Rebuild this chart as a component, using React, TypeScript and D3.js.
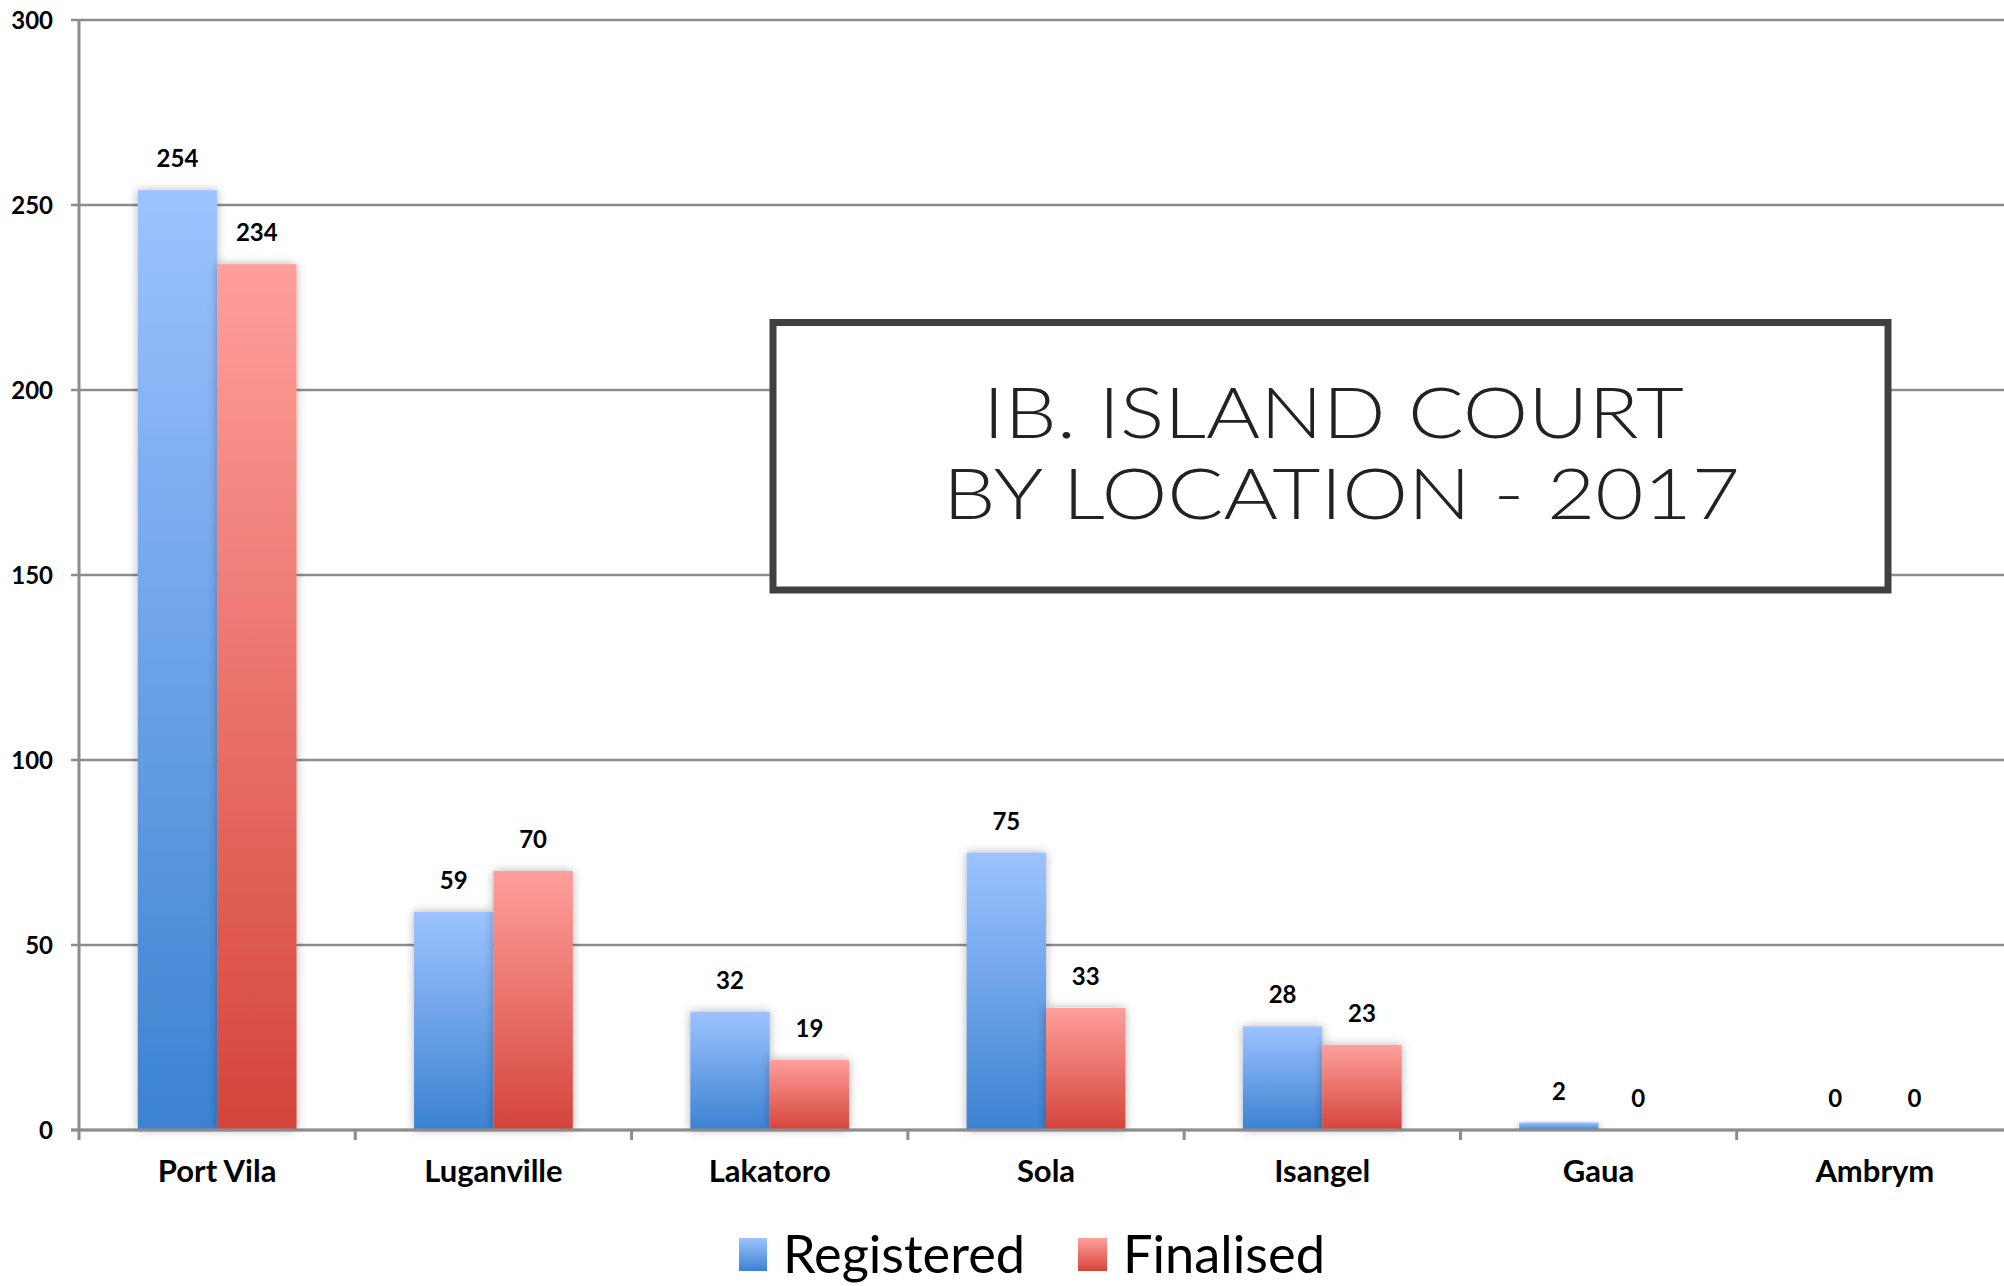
import React from "react";
import * as d3 from "d3";

const categories = ["Port Vila", "Luganville", "Lakatoro", "Sola", "Isangel", "Gaua", "Ambrym"];
const registered = [254, 59, 32, 75, 28, 2, 0];
const finalised = [234, 70, 19, 33, 23, 0, 0];
const seriesNames = ["Registered", "Finalised"];
const yTicks = [0, 50, 100, 150, 200, 250, 300];

const W = 2004;
const H = 1286;
const left = 79;
const right = 2013;
const top = 20;
const bottom = 1130;

export default function App() {
  const x0 = d3.scaleBand<string>().domain(categories).range([left, right]).paddingInner(0).paddingOuter(0);
  const x1 = d3.scaleBand<string>().domain(seriesNames).range([0, x0.bandwidth()]).paddingInner(0).paddingOuter(0.74);
  const y = d3.scaleLinear().domain([0, 300]).range([bottom, top]);
  const seriesData = [registered, finalised];
  const fills = ["url(#gBlue)", "url(#gRed)"];
  const labelFont = "Lato, 'Open Sans', sans-serif";

  return (
    <svg width={W} height={H} style={{ position: "absolute", left: 0, top: 0, background: "#fff" }}>
      <defs>
        <linearGradient id="gBlue" x1="0" y1="0" x2="0" y2="1">
          <stop offset="0" stopColor="#9dc3ff" />
          <stop offset="1" stopColor="#3b82d1" />
        </linearGradient>
        <linearGradient id="gRed" x1="0" y1="0" x2="0" y2="1">
          <stop offset="0" stopColor="#ff9f9b" />
          <stop offset="1" stopColor="#d4453b" />
        </linearGradient>
        <filter id="shadow" x="-30%" y="-10%" width="160%" height="120%">
          <feDropShadow dx="0" dy="0" stdDeviation="5" floodColor="#000" floodOpacity="0.3" />
        </filter>
      </defs>
      <rect x={0} y={0} width={W} height={H} fill="#fff" />
      {yTicks.map((t) => (
        <g key={"g" + t}>
          <line x1={71} x2={W} y1={y(t)} y2={y(t)} stroke="#8c8c8c" strokeWidth={2.5} />
          <text
            x={53}
            y={y(t) + 9}
            textAnchor="end"
            fontFamily={labelFont}
            fontWeight={700}
            fontSize={24}
            fill="#000"
          >
            {t}
          </text>
        </g>
      ))}
      {categories.map((c, i) => (
        <g key={c} transform={`translate(${x0(c)},0)`}>
          {seriesNames.map((s, j) => {
            const v = seriesData[j][i];
            const yy = y(v);
            const h = bottom - yy;
            return (
              <g key={s}>
                {h > 0 && (
                  <rect
                    x={x1(s)}
                    y={yy}
                    width={x1.bandwidth()}
                    height={h}
                    fill={fills[j]}
                    filter="url(#shadow)"
                  />
                )}
              </g>
            );
          })}
        </g>
      ))}
      <line x1={left} x2={left} y1={top} y2={bottom + 10} stroke="#8c8c8c" strokeWidth={3} />
      <line x1={71} x2={W} y1={bottom} y2={bottom} stroke="#8c8c8c" strokeWidth={3} />
      {categories.map((c, i) =>
        i > 0 ? (
          <line key={"t" + c} x1={x0(c)} x2={x0(c)} y1={bottom} y2={bottom + 10} stroke="#8c8c8c" strokeWidth={3} />
        ) : null
      )}
      {categories.map((c, i) =>
        seriesNames.map((s, j) => {
          const v = seriesData[j][i];
          return (
            <text
              key={c + s}
              x={(x0(c) as number) + (x1(s) as number) + x1.bandwidth() / 2}
              y={y(v) - 23}
              textAnchor="middle"
              fontFamily={labelFont}
              fontWeight={700}
              fontSize={24}
              fill="#000"
            >
              {v}
            </text>
          );
        })
      )}
      {categories.map((c) => (
        <text
          key={"c" + c}
          x={(x0(c) as number) + x0.bandwidth() / 2}
          y={1182}
          textAnchor="middle"
          fontFamily={labelFont}
          fontWeight={700}
          fontSize={31}
          fill="#000"
        >
          {c}
        </text>
      ))}
      <rect x={773} y={322.5} width={1115} height={267.5} fill="#fff" stroke="#404040" strokeWidth={7} />
      <text
        x={983}
        y={438}
        fontFamily="Lato, 'DejaVu Sans', sans-serif"
        fontWeight={300}
        fontSize={71}
        fill="#222"
        textLength={701}
        lengthAdjust="spacingAndGlyphs"
      >
        IB. ISLAND COURT
      </text>
      <text
        x={943}
        y={519}
        fontFamily="Lato, 'DejaVu Sans', sans-serif"
        fontWeight={300}
        fontSize={71}
        fill="#222"
        textLength={797}
        lengthAdjust="spacingAndGlyphs"
      >
        BY LOCATION - 2017
      </text>
      <rect x={739} y={1238} width={28} height={33} fill="url(#gBlue)" />
      <text
        x={783}
        y={1273}
        fontFamily={labelFont}
        fontSize={53}
        fill="#000"
        textLength={242}
        lengthAdjust="spacingAndGlyphs"
      >
        {seriesNames[0]}
      </text>
      <rect x={1078} y={1238} width={29} height={33} fill="url(#gRed)" />
      <text
        x={1123}
        y={1273}
        fontFamily={labelFont}
        fontSize={53}
        fill="#000"
        textLength={202}
        lengthAdjust="spacingAndGlyphs"
      >
        {seriesNames[1]}
      </text>
    </svg>
  );
}
